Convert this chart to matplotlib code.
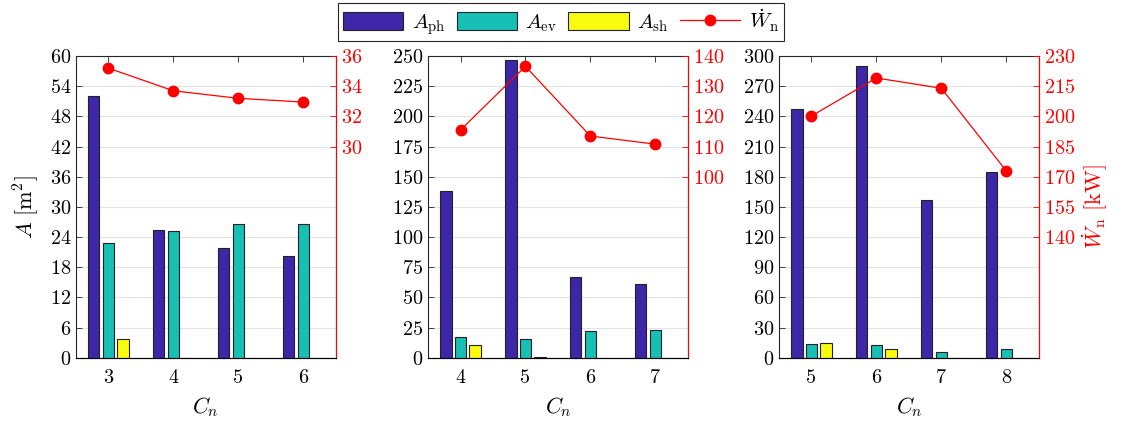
import numpy as np
import matplotlib
matplotlib.use('Agg')
import matplotlib.pyplot as plt
from matplotlib.patches import Patch
from matplotlib.lines import Line2D

plt.rcParams['font.family'] = 'serif'
plt.rcParams['font.serif'] = ['cmr10']
plt.rcParams['mathtext.fontset'] = 'cm'
plt.rcParams['axes.formatter.use_mathtext'] = True

# data
cn_1 = [3, 4, 5, 6]
cn_2 = [4, 5, 6, 7]
cn_3 = [5, 6, 7, 8]

a_ph_1 = [52.1, 25.4, 21.8, 20.2]
a_ev_1 = [22.8, 25.2, 26.7, 26.6]
a_sh_1 = [3.7, 0.0, 0.0, 0.0]
w_n_1 = [35.2, 33.7, 33.2, 32.95]

a_ph_2 = [138.4, 247.0, 67.3, 60.9]
a_ev_2 = [17.4, 15.7, 22.0, 22.9]
a_sh_2 = [10.7, 0.8, 0.0, 0.0]
w_n_2 = [115.5, 136.6, 113.5, 110.8]

a_ph_3 = [247.1, 290.4, 156.5, 184.3]
a_ev_3 = [13.9, 13.2, 5.6, 8.9]
a_sh_3 = [14.9, 8.9, 0.0, 0.0]
w_n_3 = [200.2, 219.1, 214.0, 172.9]

left_ticks = [np.arange(0, 61, 6), np.arange(0, 251, 25), np.arange(0, 301, 30)]
right_ticks = [np.arange(30, 37, 2), np.arange(100, 141, 10), np.arange(140, 231, 15)]
right_lims = [(16, 36), (40, 140), (80, 230)]

c_ph = '#3e26a8'
c_ev = '#17bfb4'
c_sh = '#f9fb0e'
edge = '#222222'

panels = [
    (cn_1, a_ph_1, a_ev_1, a_sh_1, w_n_1),
    (cn_2, a_ph_2, a_ev_2, a_sh_2, w_n_2),
    (cn_3, a_ph_3, a_ev_3, a_sh_3, w_n_3),
]
lefts = [0.0677, 0.3815, 0.6943]

fig = plt.figure(figsize=(11.22, 4.28), dpi=100)

for i, (cn, aph, aev, ash, wn) in enumerate(panels):
    ax = fig.add_axes([lefts[i], 0.164, 0.2315, 0.705])
    x = np.array(cn, dtype=float)
    w = 0.175
    off = 0.225
    ax.bar(x - off, aph, w, color=c_ph, edgecolor=edge, linewidth=0.8, zorder=3)
    ax.bar(x, aev, w, color=c_ev, edgecolor=edge, linewidth=0.8, zorder=3)
    ax.bar(x + off, ash, w, color=c_sh, edgecolor=edge, linewidth=0.8, zorder=3)
    ax.set_xlim(x[0] - 0.5, x[-1] + 0.5)
    ax.set_ylim(left_ticks[i][0], left_ticks[i][-1])
    ax.set_yticks(left_ticks[i])
    ax.set_xticks(x)
    ax.set_xticklabels([str(c) for c in cn])
    ax.yaxis.grid(True, color='#e3e3e3', linewidth=0.8, zorder=0)
    ax.set_axisbelow(True)
    ax.tick_params(axis='both', direction='in', length=4, width=0.6,
                   labelsize=14.5, colors='#262626', labelcolor='black',
                   top=True)
    ax.tick_params(axis='x', pad=8)
    for s in ['left', 'bottom', 'top']:
        ax.spines[s].set_color('#262626')
        ax.spines[s].set_linewidth(0.8)
    ax.set_xlabel('$C_n$', fontsize=16, labelpad=6)
    if i == 0:
        ax.set_ylabel(r'$A\ [\mathrm{m}^2]$', fontsize=16, labelpad=6)

    ax2 = ax.twinx()
    ax2.plot(x, wn, '-o', color='red', linewidth=0.9, markersize=7.5, zorder=5)
    ax2.set_ylim(*right_lims[i])
    ax2.set_yticks(right_ticks[i])
    ax2.tick_params(axis='y', direction='in', length=4, width=0.6,
                    labelsize=14.5, colors='red', labelcolor='red')
    ax2.spines['right'].set_color('red')
    ax2.spines['right'].set_linewidth(0.8)
    ax2.spines['top'].set_visible(False)
    ax2.spines['left'].set_visible(False)
    if i == 2:
        ax2.set_ylabel(r'$\dot{W}_\mathrm{n}\ [\mathrm{kW}]$', fontsize=16,
                       color='red', labelpad=4)

handles = [
    Patch(facecolor=c_ph, edgecolor=edge, linewidth=0.8),
    Patch(facecolor=c_ev, edgecolor=edge, linewidth=0.8),
    Patch(facecolor=c_sh, edgecolor=edge, linewidth=0.8),
    Line2D([], [], color='red', marker='o', linewidth=0.9, markersize=7.5),
]
labels = [r'$A_\mathrm{ph}$', r'$A_\mathrm{ev}$', r'$A_\mathrm{sh}$',
          r'$\dot{W}_\mathrm{n}$']
leg = fig.legend(handles, labels, loc='upper center', bbox_to_anchor=(0.5, 0.994),
                 borderaxespad=0, ncol=4, fontsize=15, frameon=True, fancybox=False,
                 edgecolor='#262626', framealpha=1, handlelength=2.9,
                 handleheight=1.0, handletextpad=0.4, columnspacing=0.55,
                 borderpad=0.22)
leg.get_frame().set_linewidth(0.8)

fig.savefig('out.png', dpi=100)
